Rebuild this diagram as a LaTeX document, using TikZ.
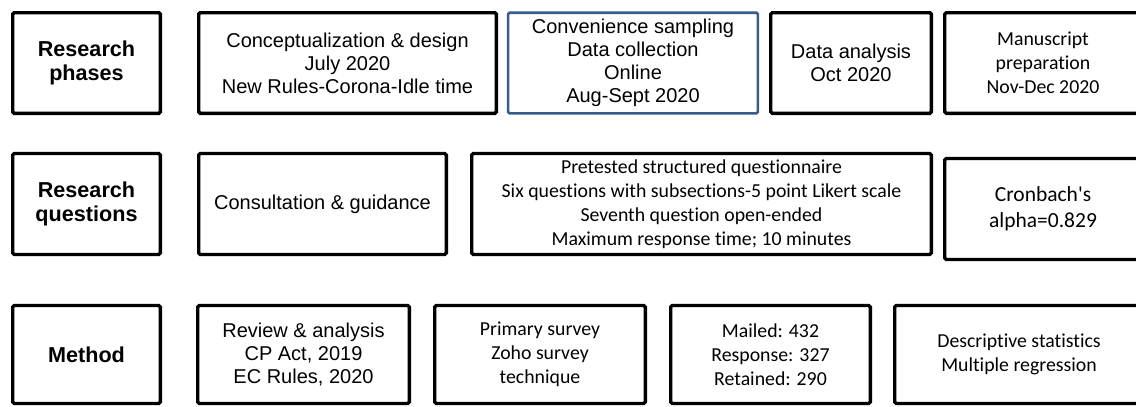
\documentclass[tikz,border=0pt]{standalone}
\usepackage{fontspec}
\setmainfont{Liberation Sans}
\newfontfamily\calibri[Ligatures={TeX,NoCommon}]{Carlito}
\usepackage{tikz}
\usepackage{xcolor}
\definecolor{officeblue}{RGB}{56,93,138}
\tikzset{
  stagebox/.style={
    draw=black, line width=3.4pt, rounded corners=1.5pt,
    align=center, inner sep=0pt, text=black,
    font=\fontsize{20}{23}\selectfont},
  headbox/.style={stagebox, font=\fontsize{21.6}{24.5}\selectfont\bfseries},
  calbox/.style={stagebox, font=\calibri\fontsize{19.8}{24}\selectfont},
  bluebox/.style={stagebox, draw=officeblue, line width=2.6pt},
  rowone/.style={minimum height=100.6pt},
  rowtwo/.style={minimum height=101pt},
  rowthree/.style={minimum height=98pt}
}

\begin{document}
\begin{tikzpicture}[x=1pt,y=-1pt]
    \useasboundingbox (0,0) rectangle (1136,407);
    \clip (0,0) rectangle (1136,407);
    % research phases
    \node[headbox,rowone,minimum width=147.6pt] (phases) at (86.5,63) {Research\\phases};
    \node[stagebox,rowone,minimum width=297.6pt] (design) at (347.5,63)
        {Conceptualization \& design\\July 2020\\New Rules-Corona-Idle time};
    \node[bluebox,rowone,minimum width=249.8pt] (collect) at (633,63)
        {Convenience sampling\\Data collection\\Online\\Aug-Sept 2020};
    \node[stagebox,rowone,minimum width=160.6pt] (analysis) at (851,63)
        {Data analysis\\Oct 2020};
    \node[calbox,rowone,minimum width=196.6pt] (manuscript) at (1043,63)
        {Manuscript\\preparation\\Nov-Dec 2020};
    % research questions
    \node[headbox,rowtwo,minimum width=147.6pt] (questions) at (86.5,204) {Research\\questions};
    \node[stagebox,rowtwo,minimum width=247.6pt] (consult) at (322.5,204)
        {Consultation \& guidance};
    \node[calbox,rowtwo,minimum width=459.6pt] (questionnaire) at (701.5,204)
        {Pretested structured questionnaire\\Six questions with subsections-5 point Likert scale\\Seventh question open-ended\\Maximum response time; 10 minutes};
    \node[calbox,rowtwo,minimum width=196.6pt,font=\calibri\fontsize{21.5}{25.5}\selectfont] (cronbach) at (1043,209)
        {Cronbach\textquotesingle s\\alpha=0.829};
    % method
    \node[headbox,rowthree,minimum width=147.6pt] (method) at (86.5,354.5) {Method};
    \node[stagebox,rowthree,minimum width=211.6pt] (review) at (303.5,354.5)
        {Review \& analysis\\CP Act, 2019\\EC Rules, 2020};
    \node[calbox,rowthree,minimum width=210.6pt] (survey) at (540,354.5)
        {Primary survey\\Zoho survey\\technique};
    \node[calbox,rowthree,minimum width=199.6pt] (sample) at (770.5,354.5)
        {Mailed: 432\\Response: 327\\Retained: 290};
    \node[calbox,rowthree,minimum width=248.6pt] (stats) at (1019,354.5)
        {Descriptive statistics\\Multiple regression};
\end{tikzpicture}
\end{document}
